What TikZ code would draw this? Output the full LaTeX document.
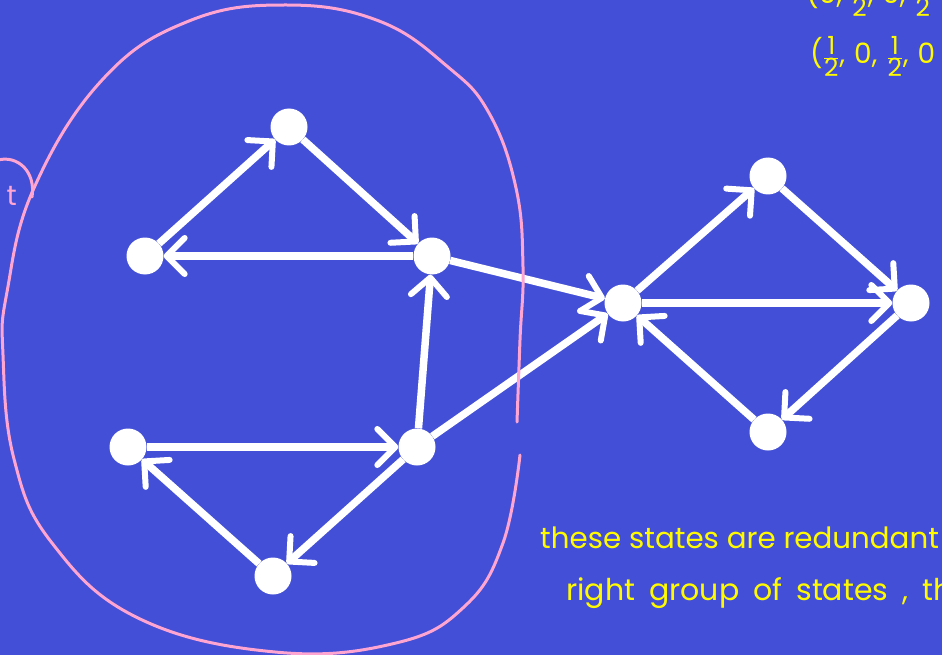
\documentclass[tikz,border=0pt]{standalone}
\usepackage{fontspec}
\setmainfont{Poppins}
\usetikzlibrary{arrows.meta}
\definecolor{bgblue}{RGB}{67,79,214}
\definecolor{hlpink}{RGB}{255,165,210}
\definecolor{hlyellow}{RGB}{255,250,0}
\newcommand\hf{$\frac{\mbox{\fontsize{25}{25}\selectfont 1}}{\mbox{\fontsize{25}{25}\selectfont 2}}$}
\newcommand\cm{,\hspace{9pt}}
\newcommand\ws{\hspace{14pt}}
\begin{document}
\begin{tikzpicture}[x=1pt,y=-1pt,
  dot/.style={circle, fill=white, minimum size=37pt, inner sep=0pt},
  edge/.style={draw=white, line width=7.5pt,
    -{Straight Barb[length=18pt, width=36pt, line width=6pt, round]}},
  outline/.style={draw=hlpink, line width=3pt, line cap=round},
  note/.style={text=hlyellow, inner sep=0pt},
  vec/.style={text=hlyellow, font=\fontsize{28}{28}\selectfont, inner sep=0pt}]
\fill[bgblue] (0,0) rectangle (942,655);
\useasboundingbox (0,0) rectangle (942,655);

% states
\node[dot] (A) at (289,127) {};
\node[dot] (B) at (145,256) {};
\node[dot] (C) at (432,256) {};
\node[dot] (D) at (128,447) {};
\node[dot] (E) at (417,447) {};
\node[dot] (F) at (273,576) {};
\node[dot] (G) at (623,303) {};
\node[dot] (H) at (768,176) {};
\node[dot] (I) at (911,303) {};
\node[dot] (J) at (768,432) {};

% transitions
\draw[edge] (B) -- (A);
\draw[edge] (A) -- (C);
\draw[edge] (C) -- (B);
\draw[edge] (E) -- (C);
\draw[edge] (C) -- (G);
\draw[edge] (E) -- (G);
\draw[edge] (D) -- (E);
\draw[edge] (E) -- (F);
\draw[edge] (F) -- (D);
\draw[edge] (G) -- (H);
\draw[edge] (H) -- (I);
\draw[edge] (G) -- (I);
\draw[edge] (I) -- (J);
\draw[edge] (J) -- (G);

% pink outline around the left group
\draw[outline] plot[smooth, tension=0.7] coordinates {
  (517,422) (520,340) (523,267) (516,188) (489,113) (448,67) (379,21)
  (286,5) (189,21) (103,79) (34,188) (7,292) (3,355) (14,459) (52,543)
  (138,618) (275,652) (396,643) (465,606) (503,543) (520,455)};
\draw[outline] (-2,160) .. controls (18,155) and (36,172) .. (32,197);
\node[text=hlpink, font=\fontsize{28}{28}\selectfont, inner sep=0pt,
  anchor=base east] (lbl) at (17,205) {t};

% yellow notes
\node[vec, anchor=base west] (v1) at (806,4) {(0\cm\hf\cm0\cm\hf};
\node[vec, anchor=base west] (v2) at (810,64) {(\hf\cm0\cm\hf\cm0};
\node[note, font=\fontsize{29.3}{30}\selectfont, anchor=base west] (n1) at (540,548) {these states are redundant};
\node[note, font=\fontsize{30}{30}\selectfont, anchor=base west] (n2) at (566,600) {right\ws group\ws of\ws states\ws,\ws th};
\end{tikzpicture}
\end{document}
